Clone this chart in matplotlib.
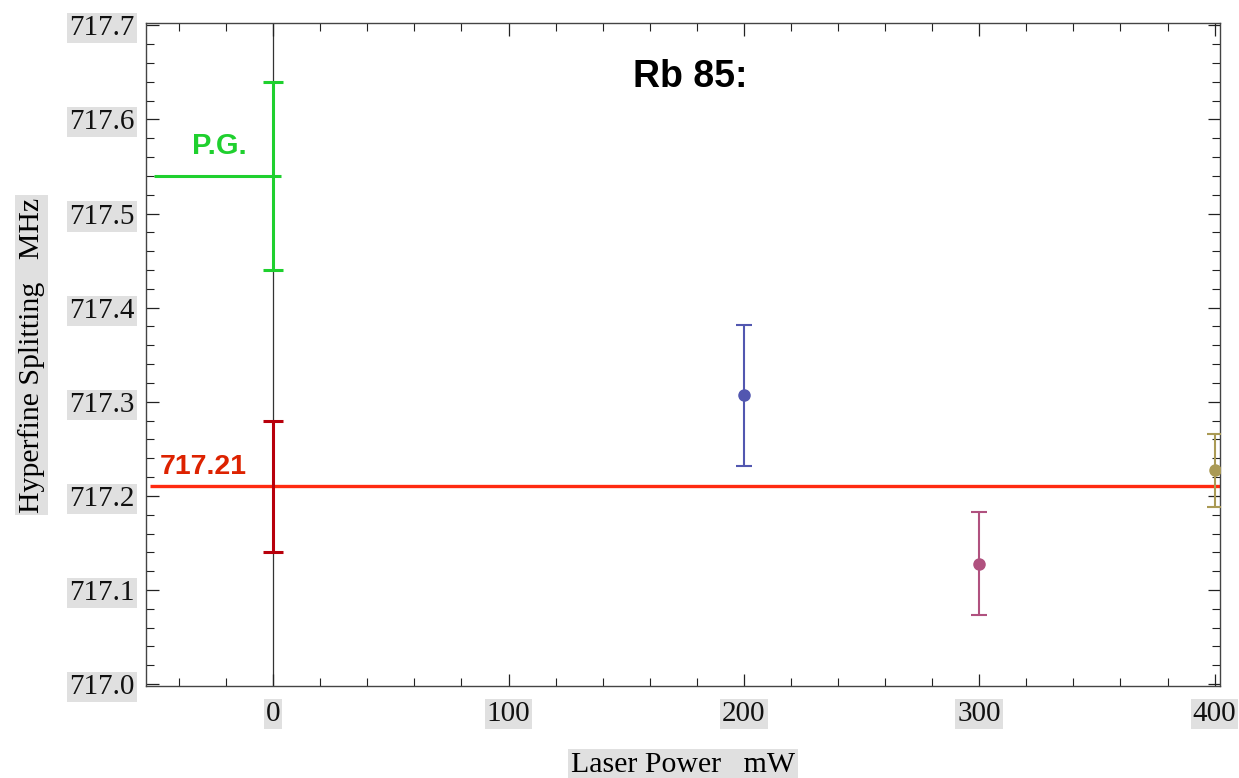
import matplotlib
matplotlib.use("Agg")
import matplotlib.pyplot as plt
from matplotlib.ticker import MultipleLocator

# Data
power = [200, 300, 400]
splitting = [717.307, 717.128, 717.227]
errors = [0.075, 0.055, 0.039]
point_colors = ["#5257b0", "#b0517f", "#aa9a55"]

ref_value = 717.21
ref_err = 0.07
pg_value = 717.54
pg_err = 0.10

xticks = [0, 100, 200, 300, 400]
yticks = [717.0, 717.1, 717.2, 717.3, 717.4, 717.5, 717.6, 717.7]

fig = plt.figure(figsize=(12.39, 7.78), dpi=100)
ax = fig.add_axes([0.1175, 0.1183, 0.8672, 0.8517])

serif = ["Liberation Serif", "DejaVu Serif"]
sans = ["Liberation Sans", "DejaVu Sans"]

ax.set_xlim(-54.2, 402.3)
ax.set_ylim(716.998, 717.7021)

# vertical axis line at x = 0
ax.axvline(0, color="#333333", lw=0.9, zorder=1)

# red reference line
ax.plot([-52.5, 402.3], [ref_value, ref_value], color="#ff2a10", lw=2.4, zorder=2, solid_capstyle="butt")
ax.errorbar([0], [ref_value], yerr=[ref_err], fmt="none", ecolor="#b8000c",
            elinewidth=2.2, capsize=7.5, capthick=2.2, zorder=3)

# P.G. green
ax.plot([-50.8, 3.3], [pg_value, pg_value], color="#1fd02e", lw=2.2, zorder=2, solid_capstyle="butt")
ax.errorbar([0], [pg_value], yerr=[pg_err], fmt="none", ecolor="#1fd02e",
            elinewidth=2.2, capsize=7.5, capthick=2.2, zorder=3)

# measured points
for x, y, e, c in zip(power, splitting, errors, point_colors):
    ax.errorbar([x], [y], yerr=[e], fmt="o", color=c, ecolor=c, ms=8,
                elinewidth=1.5, capsize=5.5, capthick=1.5, zorder=4)

ax.text(-23, 717.572, "P.G.", color="#1fd02e", fontsize=21, fontweight="bold",
        family=sans, ha="center", va="center")
ax.text(-29.6, 717.231, "717.21", color="#dd2200", fontsize=20.5, fontweight="bold",
        family=sans, ha="center", va="center")
ax.text(177, 717.645, "Rb 85:", color="black", fontsize=27, fontweight="bold",
        family=sans, ha="center", va="center")

# ticks
ax.set_xticks(xticks)
ax.set_yticks(yticks)
ax.set_xticklabels([str(v) for v in xticks])
ax.set_yticklabels([f"{v:.1f}" for v in yticks])
ax.xaxis.set_minor_locator(MultipleLocator(20))
ax.yaxis.set_minor_locator(MultipleLocator(0.02))
ax.tick_params(which="both", direction="in", top=True, right=True, color="#222222")
ax.tick_params(which="major", length=9, width=0.9)
ax.tick_params(which="minor", length=5.5, width=0.8)
ax.tick_params(axis="x", which="major", pad=11)
ax.tick_params(axis="y", which="major", pad=8)

box = dict(facecolor="#e0e0e0", edgecolor="none", pad=1.5)
for lab in ax.get_xticklabels() + ax.get_yticklabels():
    lab.set_fontfamily(serif)
    lab.set_fontsize(21)
    lab.set_color("#111111")
    lab.set_bbox(box)

for s in ax.spines.values():
    s.set_color("#444444")
    s.set_linewidth(1.0)

ax.set_xlabel("Laser Power   mW", fontsize=21.5, family=serif,
              bbox=dict(facecolor="#e0e0e0", edgecolor="none", pad=2))
ax.set_ylabel("Hyperfine Splitting   MHz", fontsize=21.5, family=serif,
              bbox=dict(facecolor="#e0e0e0", edgecolor="none", pad=2))
ax.xaxis.set_label_coords(0.5, -0.119)
ax.xaxis.label.set_va("center")
ax.yaxis.set_label_coords(-0.1063, 0.4995)
ax.yaxis.label.set_va("center")

fig.savefig("out.png", dpi=100)
